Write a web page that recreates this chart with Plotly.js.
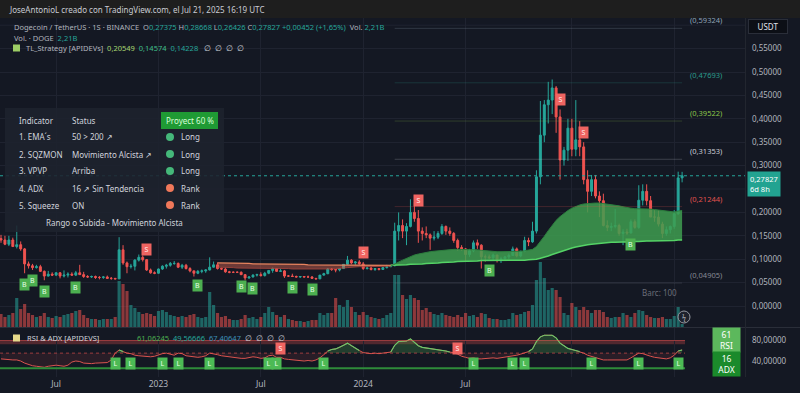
<!DOCTYPE html>
<html><head><meta charset="utf-8">
<script src="https://cdn.plot.ly/plotly-3.0.1.min.js"></script>
<style>html,body{margin:0;padding:0;background:#141823;overflow:hidden}#chart{width:800px;height:393px}</style>
</head><body><div id="chart"></div>
<script>
// ---------------- DATA (weekly DOGE/USDT) ----------------
const firstWeek = '2022-03-28';
const opens  = [.144,.141,.132,.141,.127,.131,.122,.090,.086,.082,.084,.074,.064,.068,.066,.071,.064,.066,.068,.066,.071,.067,.063,.062,.063,.061,.061,.062,.059,.059,
.058,.120,.092,.084,.085,.098,.104,.099,.077,.071,.070,.079,.085,.087,.091,.091,.083,.087,.080,.075,.070,.074,.075,.077,.083,.088,.080,.079,.073,.072,
.072,.072,.067,.060,.062,.066,.067,.065,.070,.076,.080,.074,.075,.064,.064,.063,.062,.063,.062,.062,.059,.058,.066,.069,.079,.078,.077,.080,.089,.098,
.092,.094,.090,.080,.081,.078,.080,.078,.082,.084,.086,.160,.172,.160,.170,.200,.187,.160,.155,.152,.145,.147,.155,.170,.160,.155,.140,.125,.122,.110,
.118,.135,.130,.105,.105,.103,.109,.099,.101,.105,.108,.122,.107,.117,.140,.137,.160,.276,.365,.430,.440,.466,.404,.312,.333,.380,.335,.355,.340,.270,
.245,.270,.235,.225,.172,.168,.170,.172,.155,.158,.156,.180,.168,.226,.245,.225,.190,.190,.175,.155,.163,.170,.197,.27375];
const highs  = [.152,.150,.150,.146,.172,.138,.124,.095,.090,.088,.088,.076,.075,.072,.072,.072,.076,.072,.072,.075,.088,.073,.066,.065,.065,.064,.064,.065,.062,.060,
.147,.130,.095,.090,.100,.110,.108,.100,.080,.074,.080,.087,.090,.094,.096,.093,.090,.090,.083,.076,.077,.078,.078,.104,.095,.093,.082,.082,.075,.074,
.074,.074,.068,.063,.068,.069,.072,.073,.076,.082,.081,.079,.077,.066,.069,.065,.064,.064,.065,.064,.060,.066,.071,.081,.081,.079,.081,.089,.107,.100,
.096,.098,.094,.085,.084,.081,.081,.083,.088,.088,.178,.200,.185,.177,.228,.222,.205,.168,.170,.155,.160,.160,.175,.172,.168,.158,.144,.130,.124,.122,
.140,.142,.132,.110,.110,.112,.109,.105,.107,.112,.127,.125,.118,.148,.146,.180,.290,.438,.440,.479,.484,.470,.420,.340,.400,.400,.440,.395,.350,.290,
.280,.280,.245,.240,.183,.178,.207,.176,.164,.165,.185,.185,.258,.260,.260,.235,.205,.205,.180,.170,.172,.205,.287,.28668];
const lows   = [.135,.130,.128,.126,.123,.118,.070,.080,.077,.080,.073,.055,.063,.064,.064,.059,.061,.061,.065,.064,.068,.060,.060,.060,.058,.057,.058,.058,.056,.057,
.058,.088,.070,.080,.076,.095,.095,.075,.069,.068,.069,.077,.080,.084,.088,.081,.079,.078,.072,.063,.068,.070,.071,.076,.082,.078,.077,.071,.070,.071,
.071,.066,.055,.058,.061,.063,.063,.063,.068,.071,.073,.073,.060,.062,.062,.061,.060,.061,.061,.058,.057,.058,.065,.068,.075,.072,.074,.079,.088,.089,
.088,.088,.077,.078,.076,.075,.076,.077,.080,.083,.085,.140,.145,.130,.168,.180,.135,.140,.145,.120,.140,.143,.152,.152,.150,.135,.118,.118,.095,.105,
.115,.122,.080,.095,.100,.098,.093,.092,.099,.100,.107,.104,.104,.115,.128,.135,.155,.260,.350,.390,.410,.370,.270,.300,.310,.320,.320,.320,.260,.200,
.235,.230,.190,.170,.160,.160,.166,.150,.130,.152,.155,.165,.165,.215,.215,.190,.180,.170,.145,.150,.155,.165,.195,.26426];
const closes = [.141,.132,.141,.127,.131,.122,.090,.086,.082,.084,.074,.064,.068,.066,.071,.064,.066,.068,.066,.071,.067,.063,.062,.063,.061,.061,.062,.059,.059,.058,
.120,.092,.084,.085,.098,.104,.099,.077,.071,.070,.079,.085,.087,.091,.091,.083,.087,.080,.075,.070,.074,.075,.077,.083,.088,.080,.079,.073,.072,.072,
.072,.067,.060,.062,.066,.067,.065,.070,.076,.080,.074,.075,.064,.064,.063,.062,.063,.062,.062,.059,.058,.066,.069,.079,.078,.077,.080,.089,.098,.092,
.094,.090,.080,.081,.078,.080,.078,.082,.084,.086,.160,.172,.160,.170,.200,.187,.160,.155,.152,.145,.147,.155,.170,.160,.155,.140,.125,.122,.110,.118,
.135,.130,.105,.105,.103,.109,.099,.101,.105,.108,.122,.107,.117,.140,.137,.160,.276,.365,.430,.440,.466,.404,.312,.333,.380,.335,.355,.340,.270,.245,
.270,.235,.225,.172,.168,.170,.172,.155,.158,.156,.180,.168,.226,.245,.225,.190,.190,.175,.155,.163,.170,.197,.27375,.27827];
// weekly volume (relative units, ~100M DOGE)
const volumes = [13,10,12,14,29,18,23,14,12,10,11,14,10,9,11,10,12,13,14,16,17,12,9,8,8,7,8,8,8,10,
46,43,36,22,19,15,13,14,13,11,16,17,15,12,11,10,11,10,12,13,10,9,10,35,22,14,10,11,8,7,
7,8,12,9,10,8,10,14,20,15,12,10,12,8,7,6,6,5,6,7,7,14,12,14,14,29,22,20,27,20,
15,12,15,12,10,9,8,9,12,14,52,52,32,28,32,29,27,17,19,15,13,12,14,12,11,10,12,10,14,11,
12,10,14,13,9,8,8,7,7,8,14,12,13,15,16,22,47,65,49,37,39,37,30,14,12,24,20,17,20,17,
14,17,17,15,10,9,10,10,14,12,10,14,17,16,12,10,9,9,10,8,8,11,20,3];
// TL_Strategy EMA cloud (starts at week index 55)
const bandStart = 55;
const bandFast = [.083,.083,.082,.082,.082,.081,.081,.080,.080,.080,.080,.080,.080,.081,.081,.081,.081,.080,.080,.079,.079,.079,.078,.078,.078,.078,.078,.078,.079,.079,.080,.080,.081,.082,.083,.084,.084,.084,.084,.084,.084,.084,.084,.085,.085,
.090,.094,.098,.102,.106,.109,.111,.113,.115,.116,.117,.118,.119,.120,.121,.121,.121,.121,.120,.120,.120,.120,.119,.118,.118,.117,.116,.116,.116,.116,
.116,.116,.117,.118,.119,.121,.127,.137,.149,.161,.173,.183,.191,.198,.204,.209,.213,.216,.218,.219,.220,.220,.220,.219,.218,.217,.216,.214,.212,.210,
.209,.208,.208,.208,.208,.207,.206,.205,.203,.202,.201,.201,.203,.204];
const bandSlow = [.092,.092,.092,.092,.091,.091,.091,.091,.091,.090,.090,.090,.090,.090,.090,.090,.089,.089,.089,.089,.089,.089,.089,.088,.088,.088,.088,.088,.088,.088,.088,.088,.088,.088,.088,.088,.088,.088,.088,.087,.087,.087,.087,.087,.087,
.087,.087,.088,.088,.089,.089,.090,.090,.091,.091,.092,.092,.093,.093,.094,.094,.095,.095,.095,.096,.096,.096,.097,.097,.097,.097,.098,.098,.098,.098,
.098,.098,.098,.098,.099,.099,.100,.102,.104,.107,.110,.113,.116,.119,.121,.124,.126,.128,.130,.131,.132,.133,.134,.135,.135,.136,.136,.137,.137,.137,
.138,.138,.138,.139,.139,.139,.139,.139,.139,.140,.140,.140,.141,.141];
const bullishFrom = 100;
const buySignals  = [6,8,11,19,50,61,64,74,79,124,160];
const sellSignals = [37,92,106,142,148];
const levels = [0.59324,0.47693,0.39522,0.31353,0.21244,0.04905];
const levelColors = ['#8fa3b3','#2b9c8c','#8bc34a','#c9ccd4','#e0524f','#868993'];
const levelFrom = 100;
// price axis ticks (0,25000 and 0,60000 sit under the price / USDT boxes)
const priceTicks = [0,0.05,0.10,0.15,0.20,0.30,0.35,0.40,0.45,0.50,0.55];
const hiddenTickGrid = [0.25,0.60];
// RSI & ADX pane
const rsi = [44,43,42,42,42,40,36,33,31,30,29,28,30,31,32,31,30,32,38,40,39,36,35,35,36,36,36,37,42,55,
61,58,55,54,51,50,49,48,48,49,52,54,55,53,51,55,54,50,49,48,47,48,50,55,54,52,50,49,47,46,
46,45,45,47,48,47,45,46,50,51,47,47,44,43,42,41,41,40,41,40,42,46,52,59,62,63,66,70,74,69,
64,60,56,55,54,55,54,55,56,57,70,77,77,78,82,76,69,66,65,63,62,61,60,59,57,56,53,49,47,45,
46,44,44,45,46,46,45,46,47,48,50,51,53,55,58,63,77,86,89,89,89,84,74,69,64,62,60,58,55,51,
49,46,45,42,42,42,42,41,41,42,46,50,55,54,51,49,47,46,44,44,46,51,59,61];
const longSignals = [29,33,41,45,53,68,70,82,120,130,133,150,162,172];
const shortSignals = [71,116];
const rsiValue = 61, adxValue = 16;
const xTickDates = ['2022-07-04','2023-01-02','2023-07-03','2024-01-01','2024-07-01','2025-01-06','2025-07-07'];
const xTickText  = ['Jul','2023','Jul','2024','Jul','',''];
const tableRows = [
  ['1. EMA\u00b4s','50 > 200 \u2197','Long'],
  ['2. SQZMON','Movimiento Alcista \u2197','Long'],
  ['3. VPVP','Arriba','Long'],
  ['4. ADX','16 \u2197 Sin Tendencia','Rank'],
  ['5. Squeeze','ON','Rank']
];

// ---------------- helpers ----------------
const FONT = 'Noto Sans, Open Sans, sans-serif';
const W = 800, H = 393;
const PX = x => x / W, PY = y => 1 - y / H;
const T0 = Date.UTC(2022, 2, 28), WEEK = 7 * 86400000;
function dateAt(i) { return new Date(T0 + i * WEEK).toISOString().slice(0, 19).replace('T', ' '); }
const fmt = v => v.toFixed(5).replace('.', ',');
const N = closes.length;
const dates = closes.map((_, i) => dateAt(i));
const pxPerWeek = 3.937, xOff = 1;
const iAtPx = p => (p - xOff) / pxPerWeek;

const traces = [];
traces.push({type:'bar', x:dates, y:volumes, yaxis:'y3', hoverinfo:'skip',
  marker:{color:closes.map((c,i)=> c>=opens[i] ? 'rgba(38,166,154,0.55)' : 'rgba(239,83,80,0.55)'), line:{width:0}}});
const redX = [], redF = [], redS = [], grX = [], grF = [], grS = [];
bandFast.forEach((f, k) => {
  const i = bandStart + k;
  if (i <= bullishFrom) { redX.push(dates[i]); redF.push(f); redS.push(bandSlow[k]); }
  if (i >= bullishFrom - 1) { grX.push(dates[i]); grF.push(f); grS.push(bandSlow[k]); }
});
traces.push({type:'scatter', mode:'lines', x:redX, y:redS, line:{color:'#e8845e', width:1.2}, hoverinfo:'skip'});
traces.push({type:'scatter', mode:'lines', x:redX, y:redF, line:{color:'#a8463f', width:0.8}, fill:'tonexty', fillcolor:'rgba(215,100,80,0.45)', hoverinfo:'skip'});
traces.push({type:'scatter', mode:'lines', x:grX, y:grS, line:{color:'#55d366', width:1.5}, hoverinfo:'skip'});
traces.push({type:'scatter', mode:'lines', x:grX, y:grF, line:{color:'#2c7d3e', width:1}, fill:'tonexty', fillcolor:'rgba(62,158,80,0.85)', hoverinfo:'skip'});
traces.push({type:'candlestick', x:dates, open:opens, high:highs, low:lows, close:closes, hoverinfo:'skip',
  increasing:{line:{color:'#26a69a', width:1}, fillcolor:'#26a69a'},
  decreasing:{line:{color:'#ef5350', width:1}, fillcolor:'#ef5350'}, whiskerwidth:0});
const mid = 55;
traces.push({type:'scatter', mode:'lines', x:dates, y:rsi.map(()=>mid), yaxis:'y2', line:{width:0}, hoverinfo:'skip'});
traces.push({type:'scatter', mode:'lines', x:dates, y:rsi.map(v=>Math.max(v,mid)), yaxis:'y2', line:{width:0}, fill:'tonexty', fillcolor:'rgba(76,175,80,0.25)', hoverinfo:'skip'});
traces.push({type:'scatter', mode:'lines', x:dates, y:rsi.map(()=>mid), yaxis:'y2', line:{width:0}, hoverinfo:'skip'});
traces.push({type:'scatter', mode:'lines', x:dates, y:rsi.map(v=>Math.min(v,mid)), yaxis:'y2', line:{width:0}, fill:'tonexty', fillcolor:'rgba(239,83,80,0.10)', hoverinfo:'skip'});
traces.push({type:'scatter', mode:'lines', x:dates, y:rsi, yaxis:'y2', line:{color:'#d9534f', width:1}, hoverinfo:'skip'});
traces.push({type:'scatter', mode:'lines', x:dates, y:rsi.map(v=> v>=57 ? v : null), yaxis:'y2', line:{color:'#66cc6a', width:1.1}, hoverinfo:'skip', connectgaps:false});

// ---------------- shapes ----------------
const shapes = [];
shapes.push({type:'rect', xref:'paper', yref:'paper', x0:0, x1:1, y0:PY(18), y1:1, fillcolor:'#1e1e1e', line:{width:0}, layer:'below'});
hiddenTickGrid.forEach(v => shapes.push({type:'line', xref:'paper', yref:'y', x0:0, x1:PX(745), y0:v, y1:v, line:{color:'#1f2330', width:1}, layer:'below'}));
shapes.push({type:'line', xref:'paper', yref:'paper', x0:0, x1:1, y0:PY(327.5), y1:PY(327.5), line:{color:'#2a2e39', width:1}});
shapes.push({type:'line', xref:'paper', yref:'paper', x0:PX(745.5), x1:PX(745.5), y0:PY(377), y1:PY(18), line:{color:'#22262f', width:1}});
levels.forEach((v,k)=> shapes.push({type:'line', xref:'x', yref:'y', x0:dateAt(levelFrom), x1:dateAt(N-1), y0:v, y1:v, line:{color:levelColors[k], width:1}, opacity:0.22}));
shapes.push({type:'line', xref:'paper', yref:'y', x0:0, x1:PX(745), y0:closes[N-1], y1:closes[N-1], line:{color:'#26a69a', width:1, dash:'dot'}});
shapes.push({type:'rect', xref:'paper', yref:'y2', x0:0, x1:PX(685), y0:72, y1:79, fillcolor:'rgba(239,83,80,0.28)', line:{width:0}, layer:'below'});
shapes.push({type:'line', xref:'paper', yref:'y2', x0:0, x1:PX(685), y0:79, y1:79, line:{color:'rgba(239,83,80,0.55)', width:1}});
shapes.push({type:'line', xref:'paper', yref:'y2', x0:0, x1:PX(685), y0:mid, y1:mid, line:{color:'rgba(239,83,80,0.6)', width:1, dash:'dot'}});
shapes.push({type:'line', xref:'paper', yref:'y2', x0:0, x1:PX(685), y0:26, y1:26, line:{color:'#2e8b3a', width:2}});
shapes.push({type:'rect', xref:'paper', yref:'paper', x0:PX(5), x1:PX(224), y0:PY(232), y1:PY(108), fillcolor:'rgba(30,34,45,0.88)', line:{width:0}});
shapes.push({type:'rect', xref:'paper', yref:'paper', x0:PX(161), x1:PX(218), y0:PY(129), y1:PY(112), fillcolor:'#1f9a34', line:{width:0}});
shapes.push({type:'rect', xref:'paper', yref:'paper', x0:PX(13), x1:PX(20), y0:PY(51.5), y1:PY(44.5), fillcolor:'#9ccc65', line:{width:0}});
shapes.push({type:'rect', xref:'paper', yref:'paper', x0:PX(13), x1:PX(20), y0:PY(341.5), y1:PY(334.5), fillcolor:'#e6d98a', line:{width:0}});
shapes.push({type:'circle', xref:'paper', yref:'paper', x0:PX(678), x1:PX(690), y0:PY(323), y1:PY(311), fillcolor:'#1e222d', line:{color:'#9598a1', width:1}});

// ---------------- annotations ----------------
const ann = [];
function txt(x, y, text, size, color, extra) {
  ann.push(Object.assign({xref:'paper', yref:'paper', x:PX(x), y:PY(y), text:text, showarrow:false,
    xanchor:'left', yanchor:'middle', font:{family:FONT, size:size, color:color}}, extra || {}));
}
const G = '#b2b5be', TEAL = '#26a69a';
const sp = (c, t) => `<span style="color:${c}">${t}</span>`;
txt(7, 9, 'JoseAntonioL creado con TradingView.com, el Jul 21, 2025 16:19 UTC', 8, '#c9ccd3');
const chg = closes[N-1] - opens[N-1];
txt(12, 27, 'Dogecoin / TetherUS \u00b7 1S \u00b7 BINANCE&nbsp;&nbsp;O' + sp(TEAL, fmt(opens[N-1])) + '&nbsp;H' + sp(TEAL, fmt(highs[N-1])) +
  '&nbsp;L' + sp(TEAL, fmt(lows[N-1])) + '&nbsp;C' + sp(TEAL, fmt(closes[N-1]) + '&nbsp;+' + fmt(chg) + '&nbsp;(+1,65%)') + '&nbsp;&nbsp;Vol.&nbsp;' + sp(TEAL, '2,21B'), 7.5, G);
txt(12, 38, 'Vol. \u00b7 DOGE&nbsp;&nbsp;' + sp(TEAL, '2,21B'), 7.5, G);
txt(24, 48, 'TL_Strategy [APIDEVs]&nbsp;&nbsp;' + sp('#a5d66f', '0,20549') + '&nbsp;&nbsp;' + sp('#3fbf8a', '0,14574') + '&nbsp;&nbsp;' + sp(TEAL, '0,14228') +
  '&nbsp;&nbsp;&nbsp;' + sp('#d1d4dc', '\u2205&nbsp;&nbsp;\u2205&nbsp;&nbsp;\u2205&nbsp;&nbsp;\u2205'), 7.5, G);
txt(25, 338, 'RSI &amp; ADX [APIDEVS]', 7.5, '#d1d4dc');
txt(135, 338, sp('#4caf50', '61,06245') + '&nbsp;&nbsp;' + sp('#26a69a', '49,56666') + '&nbsp;&nbsp;' + sp('#3d8fb8', '67,40647') + '&nbsp;&nbsp;' +
  sp('#d1d4dc', '\u2205&nbsp;&nbsp;\u2205&nbsp;&nbsp;\u2205&nbsp;&nbsp;\u2205'), 7.5, '#d1d4dc');
const TC = '#d1d4dc';
txt(17, 120, 'Indicator', 8, TC);
txt(70, 120, 'Status', 8, TC);
txt(189.5, 120.5, 'Proyect 60 %', 8, '#d8ffd8', {xanchor:'center'});
tableRows.forEach((r, k) => {
  const y = 137 + k * 17;
  txt(17, y, r[0], 8, TC);
  txt(70, y, r[1], 8, TC);
  const col = r[2] === 'Long' ? '#45b87a' : '#f0785a';
  shapes.push({type:'circle', xref:'paper', yref:'paper', x0:PX(166), x1:PX(174), y0:PY(y+4), y1:PY(y-4), fillcolor:col, line:{width:0}});
  txt(179, y, r[2], 8, TC);
});
txt(115, 222, 'Rango o Subida - Movimiento Alcista', 8, TC, {xanchor:'center'});
const labelX = dateAt(iAtPx(688));
levels.forEach((v,k)=> ann.push({xref:'x', yref:'y', x:labelX, y:v, yshift:8, text:'(' + fmt(v) + ')', showarrow:false,
  xanchor:'left', yanchor:'middle', font:{family:FONT, size:7.5, color:levelColors[k]}}));
buySignals.forEach(i => ann.push({xref:'x', yref:'y', x:dates[i], y:lows[i], yshift:-11, text:'B', showarrow:false,
  font:{family:FONT, size:7, color:'#e6ffe6'}, bgcolor:'#4caf50', borderpad:1, width:7, height:9}));
sellSignals.forEach(i => ann.push({xref:'x', yref:'y', x:dates[i], y:highs[i], yshift:10, text:'S', showarrow:false,
  font:{family:FONT, size:7, color:'#ffecec'}, bgcolor:'#ef6461', borderpad:1, width:7, height:9}));
const LROW = 36, SROW = 63;
longSignals.forEach(i => ann.push({xref:'x', yref:'y2', x:dates[i], y:LROW, text:'L', showarrow:false,
  font:{family:FONT, size:7, color:'#eaffea'}, bgcolor:'#4cba55', borderpad:1, width:7, height:9}));
shortSignals.forEach(i => ann.push({xref:'x', yref:'y2', x:dates[i], y:SROW, text:'S', showarrow:false,
  font:{family:FONT, size:7, color:'#ffecec'}, bgcolor:'#ef6461', borderpad:1, width:7, height:9}));
ann.push({xref:'paper', yref:'paper', x:PX(748), y:PY(26), xanchor:'left', yanchor:'middle', text:'USDT', showarrow:false,
  font:{family:FONT, size:8, color:'#e0e3eb'}, bgcolor:'#0c0f16', bordercolor:'#2a2e39', borderwidth:1, width:36, height:11});
ann.push({xref:'paper', yref:'y', x:PX(747), y:closes[N-1], yshift:5, xanchor:'left', yanchor:'top', showarrow:false,
  text:fmt(closes[N-1]) + '<br>6d 8h', font:{family:FONT, size:7.5, color:'#ffffff'}, bgcolor:'#22a391', borderpad:2, align:'left'});
ann.push({xref:'paper', yref:'paper', x:PX(726.5), y:PY(340), xanchor:'center', yanchor:'middle', showarrow:false,
  text:rsiValue + '<br>RSI', font:{family:FONT, size:8.5, color:'#ffffff'}, bgcolor:'#5cb85c', width:25, height:22});
ann.push({xref:'paper', yref:'paper', x:PX(726.5), y:PY(364), xanchor:'center', yanchor:'middle', showarrow:false,
  text:adxValue + '<br>ADX', font:{family:FONT, size:8.5, color:'#ffffff'}, bgcolor:'#1b8a2b', width:25, height:22});
txt(640, 292, 'Barc: 100', 8, '#6a6d78');
txt(684, 317, '\u03df', 7, '#b0b3bb', {xanchor:'center'});

// ---------------- layout ----------------
const yTop = 18, yMainBot = 327, yRsiTop = 328, yRsiBot = 377;
const priceAt = y => (306 - y) / 468;
const rsiAt = y => 40 + (361 - y) * (40 / 21);
const layout = {
  width: W, height: H, margin:{l:0, r:0, t:0, b:0},
  paper_bgcolor:'#141823', plot_bgcolor:'#141823',
  separators: ',.', showlegend:false, hovermode:false, bargap:0.2,
  font:{family:FONT, size:8.5, color:'#b2b5be'},
  xaxis:{domain:[0, PX(745)], type:'date', anchor:'y2', range:[dateAt(iAtPx(0)), dateAt(iAtPx(745))],
    tickvals:xTickDates, ticktext:xTickText, showgrid:true, gridcolor:'#1f2330', zeroline:false,
    ticks:'', tickfont:{size:8.5, color:'#b2b5be'}, rangeslider:{visible:false}, showline:false, fixedrange:true},
  yaxis:{domain:[PY(yMainBot), PY(yTop)], range:[priceAt(yMainBot), priceAt(yTop)], side:'right', anchor:'x',
    tickvals:priceTicks, tickformat:'.5f', showgrid:true, gridcolor:'#1f2330', zeroline:false, ticks:'',
    ticklabelstandoff:6, tickfont:{size:8, color:'#b2b5be'}},
  yaxis2:{domain:[PY(yRsiBot), PY(yRsiTop)], range:[rsiAt(yRsiBot), rsiAt(yRsiTop)], side:'right', anchor:'x',
    tickvals:[40, 80], tickformat:'.5f', showgrid:false, zeroline:false, ticks:'', ticklabelstandoff:6,
    tickfont:{size:8, color:'#b2b5be'}},
  yaxis3:{overlaying:'y', range:[0, yMainBot - yTop], visible:false},
  shapes: shapes, annotations: ann
};
Plotly.newPlot('chart', traces, layout, {staticPlot:true, displayModeBar:false});
</script></body></html>
